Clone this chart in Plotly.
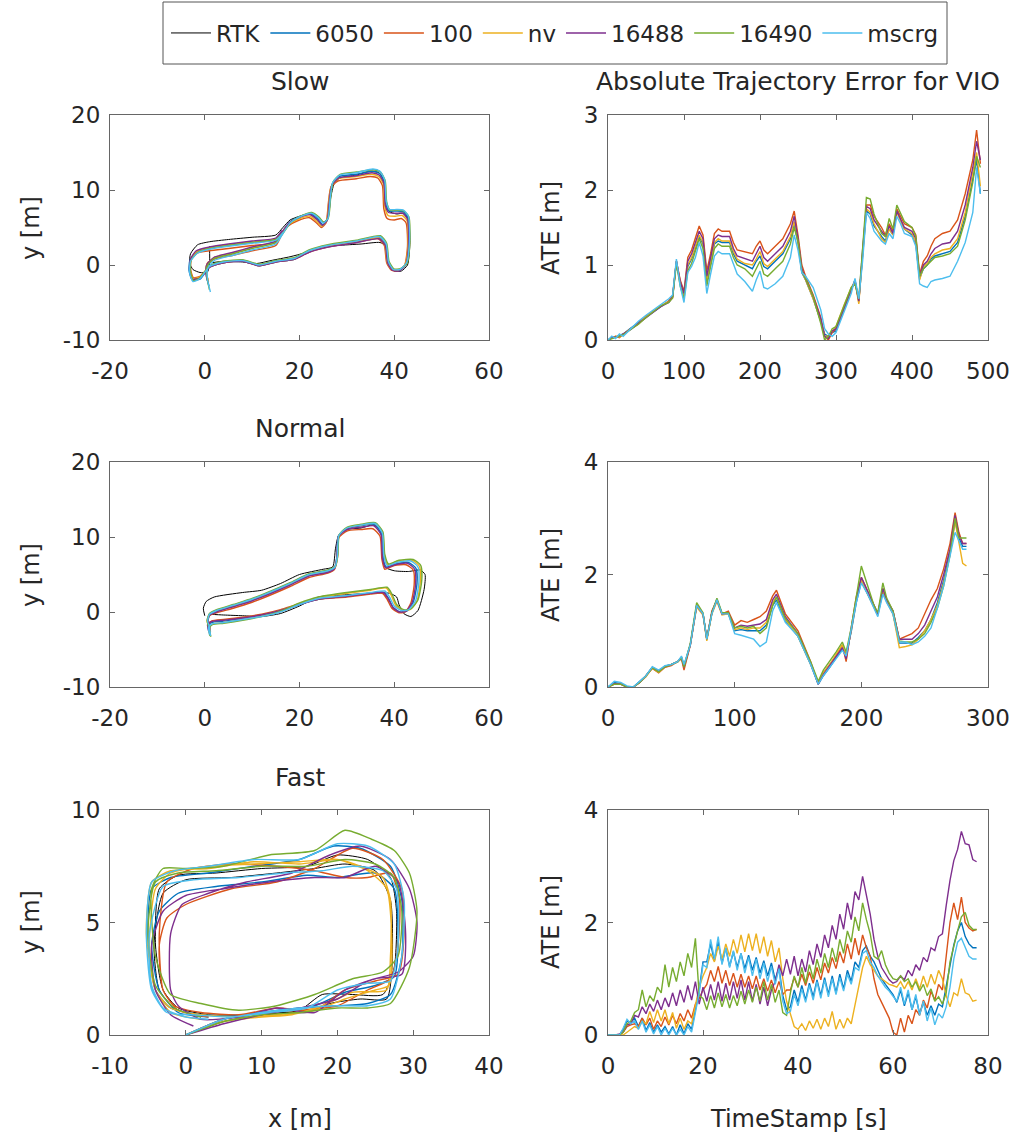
import plotly.graph_objects as go

W, H = 1025, 1139
FONT = "DejaVu Sans"
TXT = "#262626"
AX = "#666666"

names = ["RTK", "6050", "100", "nv", "16488", "16490", "mscrg"]
colors = {"RTK": "#000000", "6050": "#0072BD", "100": "#D95319", "nv": "#EDB120",
          "16488": "#7E2F8E", "16490": "#77AC30", "mscrg": "#4DBEEE"}

# ---------------- Slow trajectories ----------------
slow_x = {
    "RTK": [1.0, 1.0, 0.5, -1.0, -2.5, -3.2, -3.0, -1.5, 1.0, 5.0, 10.0, 15.0, 16.5, 18.0, 20.0, 22.5, 24.0, 25.0, 26.0, 26.6, 27.3, 28.5, 32.0, 35.0, 36.8, 37.8, 38.2, 38.8, 40.5, 42.0, 43.0, 43.3, 42.8, 41.5, 40.0, 38.8, 38.3, 37.0, 33.0, 28.0, 24.0, 21.0, 18.0, 14.0, 11.0, 8.0, 4.0, 1.5],
    "6050": [0.9, 0.4, 0.5, 2.0, 6.0, 10.0, 15.0, 16.4, 17.9, 19.9, 22.4, 23.9, 24.9, 25.9, 26.4, 26.9, 28.4, 32.0, 35.4, 36.9, 37.9, 38.2, 38.9, 40.4, 41.9, 42.9, 43.1, 42.5, 41.1, 39.7, 38.7, 38.2, 36.9, 32.0, 26.0, 22.0, 19.0, 15.0, 11.5, 8.0, 4.0, 1.0, -1.0, -2.6, -3.3, -3.1, -1.6, 1.0, 5.0, 10.0, 15.0, 16.4],
    "100": [0.7, 0.3, 0.5, 2.0, 6.0, 10.0, 15.0, 16.2, 17.6, 19.6, 22.1, 23.6, 24.6, 25.6, 26.1, 26.6, 28.1, 32.0, 35.0, 36.5, 37.5, 37.8, 38.5, 40.0, 41.5, 42.5, 42.8, 42.2, 40.8, 39.4, 38.4, 37.9, 36.6, 32.0, 26.0, 22.0, 19.0, 15.0, 11.5, 8.0, 4.0, 1.0, -1.0, -2.4, -3.0, -2.8, -1.6, 1.0, 5.0, 10.0, 15.0, 16.2],
    "nv": [0.8, 0.4, 0.5, 2.0, 6.0, 10.0, 15.0, 16.3, 17.7, 19.7, 22.2, 23.7, 24.7, 25.7, 26.2, 26.7, 28.2, 32.0, 35.2, 36.7, 37.7, 38.0, 38.7, 40.2, 41.7, 42.7, 42.9, 42.3, 40.9, 39.5, 38.5, 38.0, 36.7, 32.0, 26.0, 22.0, 19.0, 15.0, 11.5, 8.0, 4.0, 1.0, -1.0, -2.5, -3.1, -2.9, -1.7, 1.0, 5.0, 10.0, 15.0, 16.3],
    "16488": [0.8, 0.3, 0.4, 1.9, 6.0, 10.0, 15.0, 16.4, 17.8, 19.8, 22.3, 23.8, 24.8, 25.8, 26.3, 26.8, 28.3, 32.0, 35.3, 36.8, 37.8, 38.1, 38.8, 40.3, 41.8, 42.8, 43.0, 42.4, 41.0, 39.6, 38.6, 38.1, 36.8, 32.0, 26.0, 22.0, 19.0, 15.0, 11.5, 8.0, 4.0, 1.0, -1.0, -2.6, -3.2, -3.0, -1.8, 1.0, 5.0, 10.0, 15.0, 16.3],
    "16490": [1.0, 0.5, 0.4, 1.8, 6.0, 10.0, 15.0, 16.6, 18.2, 20.2, 22.6, 24.1, 25.1, 26.1, 26.6, 27.1, 28.6, 32.0, 35.5, 37.1, 38.1, 38.4, 39.1, 40.6, 42.1, 43.1, 43.3, 42.7, 41.3, 39.9, 38.9, 38.4, 37.1, 32.0, 26.0, 22.0, 19.0, 15.0, 11.5, 8.0, 4.0, 1.0, -1.0, -2.4, -3.0, -2.9, -1.4, 1.0, 5.0, 10.0, 15.0, 16.6],
    "mscrg": [1.2, 0.6, 0.6, 2.0, 6.0, 10.0, 15.0, 16.5, 18.0, 20.0, 22.5, 24.0, 25.0, 26.0, 26.5, 27.0, 28.5, 32.0, 35.5, 37.0, 38.0, 38.3, 39.0, 40.5, 42.0, 43.0, 43.2, 42.6, 41.2, 39.8, 38.8, 38.3, 37.0, 32.0, 26.0, 22.0, 19.0, 15.0, 11.5, 8.0, 4.0, 1.0, -1.0, -2.5, -3.2, -3.0, -1.5, 1.0, 5.0, 10.0, 15.0, 16.5],
}
slow_y = {
    "RTK": [2.5, 0.0, -1.0, -1.0, -0.6, 0.3, 1.5, 2.7, 3.1, 3.4, 3.7, 4.0, 5.0, 6.0, 6.5, 6.9, 6.3, 5.7, 6.3, 9.0, 10.8, 11.6, 12.0, 12.5, 12.3, 11.3, 9.0, 7.2, 6.8, 6.9, 6.0, 3.0, 0.0, -0.8, -0.8, 0.2, 2.5, 3.0, 2.8, 2.6, 2.3, 1.6, 1.1, 0.6, 0.2, 0.4, 0.5, 0.3],
    "6050": [-2.8, -1.6, -0.2, 0.9, 1.6, 2.3, 3.1, 4.4, 5.7, 6.4, 6.8, 6.1, 5.4, 6.0, 8.8, 10.8, 11.8, 12.1, 12.5, 12.2, 11.0, 8.2, 7.2, 7.2, 7.1, 6.3, 2.8, 0.1, -0.7, -0.7, 0.3, 2.7, 3.6, 3.1, 2.5, 1.8, 0.8, 0.4, -0.1, 0.5, 0.3, -0.3, -1.9, -2.0, -0.8, 0.7, 1.8, 2.3, 2.7, 3.1, 3.5, 4.5],
    "100": [-2.0, -1.0, 0.2, 0.8, 1.3, 1.9, 2.6, 4.0, 5.2, 5.9, 6.3, 5.6, 5.0, 5.6, 8.3, 10.3, 11.2, 11.5, 11.8, 11.6, 10.6, 7.5, 6.2, 6.0, 6.2, 5.6, 2.5, 0.0, -0.8, -0.7, 0.3, 2.6, 3.5, 3.0, 2.4, 1.7, 0.8, 0.4, -0.1, 0.5, 0.3, -0.3, -1.5, -1.7, -0.5, 0.9, 1.6, 1.9, 2.2, 2.6, 3.0, 4.0],
    "nv": [-2.2, -1.2, 0.1, 1.0, 1.6, 2.3, 3.0, 4.3, 5.4, 6.1, 6.5, 5.8, 5.2, 5.8, 8.5, 10.5, 11.5, 11.8, 12.1, 11.8, 10.8, 7.8, 6.6, 6.5, 6.6, 5.9, 2.7, 0.1, -0.7, -0.6, 0.4, 2.7, 3.6, 3.1, 2.5, 1.8, 0.9, 0.5, 0.0, 0.6, 0.4, -0.2, -1.6, -1.8, -0.6, 0.8, 1.8, 2.3, 2.7, 3.1, 3.5, 4.5],
    "16488": [-2.5, -1.4, 0.0, 1.0, 1.7, 2.4, 3.2, 4.5, 5.6, 6.3, 6.7, 6.0, 5.3, 5.9, 8.6, 10.6, 11.6, 11.9, 12.3, 12.0, 10.9, 8.0, 7.0, 6.9, 6.9, 6.1, 2.6, 0.0, -0.8, -0.7, 0.3, 2.6, 3.5, 3.0, 2.4, 1.7, 0.8, 0.4, -0.1, 0.5, 0.3, -0.3, -1.7, -1.9, -0.7, 0.8, 1.9, 2.4, 2.8, 3.2, 3.6, 4.6],
    "16490": [-3.3, -1.8, -0.3, 0.8, 1.5, 2.2, 3.0, 4.3, 5.7, 6.5, 7.0, 6.4, 5.7, 6.3, 9.1, 11.1, 12.1, 12.4, 12.7, 12.4, 11.2, 8.4, 7.3, 7.3, 7.2, 6.4, 3.0, 0.2, -0.5, -0.5, 0.5, 2.9, 3.9, 3.3, 2.7, 2.0, 1.0, 0.6, 0.1, 0.7, 0.5, -0.1, -1.7, -2.1, -0.9, 0.6, 1.7, 2.2, 2.6, 3.0, 3.4, 4.4],
    "mscrg": [-3.6, -2.0, -0.5, 0.6, 1.3, 2.0, 2.8, 4.2, 5.6, 6.4, 6.9, 6.3, 5.6, 6.2, 9.0, 11.0, 12.0, 12.3, 12.8, 12.5, 11.3, 8.5, 7.4, 7.4, 7.3, 6.5, 3.0, 0.3, -0.6, -0.6, 0.4, 2.8, 3.8, 3.2, 2.6, 1.9, 0.9, 0.5, 0.0, 0.6, 0.4, -0.2, -1.8, -2.2, -1.0, 0.5, 1.6, 2.1, 2.5, 2.9, 3.3, 4.3],
}

# ---------------- Normal trajectories ----------------
normal_x = {
    "RTK": [0.0, -0.3, 0.3, 2.0, 8.0, 12.0, 16.0, 20.0, 25.0, 27.0, 27.6, 28.3, 30.0, 33.0, 35.5, 37.2, 37.6, 38.0, 40.0, 43.0, 45.5, 46.5, 46.3, 45.0, 43.5, 42.0, 41.0, 40.5, 39.0, 35.0, 30.0, 24.0, 20.0, 16.0, 12.0, 8.0, 4.0, 1.0],
    "6050": [0.9, 0.7, 1.4, 4.0, 8.0, 12.0, 16.0, 20.0, 24.0, 30.0, 35.0, 37.8, 38.8, 39.8, 41.2, 42.6, 44.0, 44.8, 44.6, 43.0, 40.2, 38.3, 37.6, 37.3, 35.8, 33.0, 30.0, 28.2, 27.9, 27.4, 26.0, 22.0, 18.0, 14.0, 10.0, 6.0, 2.5, 1.0, 0.7, 1.0, 1.1],
    "100": [1.0, 0.8, 1.5, 4.0, 8.0, 12.0, 16.0, 20.0, 24.0, 30.0, 35.0, 37.5, 38.5, 39.5, 41.0, 42.3, 43.5, 44.2, 44.0, 42.5, 40.0, 38.0, 37.4, 37.0, 35.5, 33.0, 30.0, 28.3, 28.0, 27.4, 26.0, 22.0, 18.0, 14.0, 10.0, 6.0, 2.5, 1.0, 0.6, 1.0, 1.2],
    "nv": [1.1, 0.9, 1.6, 4.0, 8.0, 12.0, 16.0, 20.0, 24.0, 30.0, 35.0, 38.3, 39.3, 40.3, 41.8, 43.3, 44.8, 45.5, 45.3, 43.8, 40.8, 38.6, 37.9, 37.5, 36.0, 33.0, 30.0, 28.3, 28.0, 27.5, 26.0, 22.0, 18.0, 14.0, 10.0, 6.0, 2.5, 1.0, 0.5, 0.9, 1.2],
    "16488": [0.8, 0.6, 1.3, 4.0, 8.0, 12.0, 16.0, 20.0, 24.0, 30.0, 35.0, 37.7, 38.7, 39.7, 41.1, 42.5, 43.8, 44.5, 44.3, 42.8, 40.1, 38.2, 37.5, 37.2, 35.7, 33.0, 30.0, 28.2, 27.9, 27.4, 26.0, 22.0, 18.0, 14.0, 10.0, 6.0, 2.5, 1.0, 0.6, 0.9, 1.0],
    "16490": [1.1, 0.9, 1.6, 4.0, 8.0, 12.0, 16.0, 20.0, 24.0, 30.0, 35.0, 38.5, 39.5, 40.5, 42.0, 43.5, 45.0, 45.8, 45.6, 44.0, 41.0, 38.8, 38.0, 37.6, 36.0, 33.0, 30.0, 28.4, 28.1, 27.6, 26.0, 22.0, 18.0, 14.0, 10.0, 6.0, 2.5, 1.0, 0.5, 0.9, 1.3],
    "mscrg": [1.0, 0.8, 1.5, 4.0, 8.0, 12.0, 16.0, 20.0, 24.0, 30.0, 35.0, 38.0, 39.0, 40.0, 41.5, 43.0, 44.5, 45.2, 45.0, 43.5, 40.5, 38.5, 37.8, 37.5, 36.0, 33.0, 30.0, 28.3, 28.0, 27.5, 26.0, 22.0, 18.0, 14.0, 10.0, 6.0, 2.5, 1.0, 0.6, 1.0, 1.2],
}
normal_y = {
    "RTK": [-0.5, 0.5, 1.4, 2.0, 2.6, 2.9, 3.8, 5.0, 5.7, 6.0, 8.5, 10.3, 11.0, 11.2, 11.6, 11.0, 8.0, 6.0, 5.5, 5.4, 5.6, 5.0, 3.0, 0.2, -0.6, -0.2, 1.0, 2.0, 2.5, 2.5, 2.3, 2.0, 0.8, -0.2, -0.6, -0.5, -0.4, -0.3],
    "6050": [-2.6, -1.8, -1.4, -1.2, -0.9, -0.5, 0.1, 1.0, 1.7, 2.1, 2.5, 2.6, 1.8, 0.6, 0.0, 0.1, 1.3, 3.8, 5.8, 6.6, 6.4, 6.0, 7.3, 10.4, 11.7, 11.5, 11.1, 10.1, 7.4, 5.9, 5.4, 4.9, 3.7, 2.6, 1.6, 0.8, 0.1, -0.4, -1.3, -1.9, -2.9],
    "100": [-2.4, -1.6, -1.2, -1.0, -0.7, -0.3, 0.3, 1.1, 1.7, 2.0, 2.4, 2.5, 1.7, 0.5, -0.1, 0.0, 1.2, 3.6, 5.6, 6.3, 6.2, 5.7, 7.0, 10.1, 11.1, 11.0, 10.8, 9.9, 7.2, 5.7, 5.2, 4.6, 3.4, 2.3, 1.3, 0.5, -0.1, -0.5, -1.2, -1.7, -2.6],
    "nv": [-3.1, -2.1, -1.6, -1.4, -1.0, -0.5, 0.2, 1.1, 1.9, 2.5, 2.9, 3.2, 2.3, 0.9, 0.2, 0.3, 1.5, 4.1, 6.1, 6.9, 6.8, 6.3, 7.6, 10.6, 11.8, 11.6, 11.2, 10.2, 7.5, 6.0, 5.5, 5.0, 3.8, 2.7, 1.7, 0.9, 0.2, -0.3, -1.2, -2.1, -3.0],
    "16488": [-2.5, -1.7, -1.3, -1.1, -0.8, -0.4, 0.2, 1.0, 1.7, 2.1, 2.5, 2.6, 1.8, 0.6, 0.0, 0.1, 1.3, 3.7, 5.7, 6.5, 6.3, 5.9, 7.2, 10.3, 11.5, 11.3, 11.0, 10.0, 7.3, 5.8, 5.3, 4.8, 3.6, 2.5, 1.5, 0.7, 0.0, -0.4, -1.2, -1.8, -2.8],
    "16490": [-3.2, -2.2, -1.7, -1.5, -1.1, -0.6, 0.1, 1.2, 2.0, 2.6, 3.0, 3.3, 2.4, 1.0, 0.3, 0.4, 1.6, 4.2, 6.2, 7.0, 6.9, 6.4, 7.7, 10.7, 11.9, 11.7, 11.3, 10.3, 7.6, 6.1, 5.6, 5.1, 3.9, 2.8, 1.8, 1.0, 0.3, -0.2, -1.1, -2.2, -3.3],
    "mscrg": [-3.0, -2.0, -1.6, -1.4, -1.0, -0.6, 0.0, 1.0, 1.8, 2.2, 2.6, 2.8, 2.0, 0.8, 0.2, 0.3, 1.5, 4.0, 6.0, 6.8, 6.6, 6.2, 7.5, 10.5, 11.8, 11.6, 11.2, 10.2, 7.5, 6.0, 5.5, 5.0, 3.8, 2.7, 1.7, 0.9, 0.2, -0.3, -1.2, -2.0, -3.2],
}

# ---------------- Fast trajectories ----------------
fast_x = {
    "RTK": [0.0, 5.0, 10.0, 15.0, 18.0, 22.0, 26.0, 27.5, 27.8, 27.0, 24.0, 20.0, 16.0, 10.0, 4.0, -1.0, -3.5, -4.0, -3.0, -1.0, 3.0, 8.0, 13.0, 16.0, 19.0, 23.0, 26.5, 27.2, 27.0, 25.0, 21.0, 17.0, 12.0, 6.0, 0.0, -3.0, -4.2, -3.5, -1.5, 2.0],
    "6050": [0.0, 5.0, 10.0, 15.0, 20.0, 24.0, 27.0, 28.5, 28.5, 27.0, 23.0, 19.5, 15.0, 9.0, 3.0, -2.0, -4.5, -5.0, -4.0, -2.0, 2.0, 8.0, 13.0, 17.0, 21.0, 25.0, 27.5, 28.0, 27.5, 25.0, 20.0, 16.0, 10.0, 4.0, -1.0, -3.5, -4.5, -3.5, -1.0, 3.0],
    "100": [0.0, 5.0, 10.0, 15.0, 20.0, 24.0, 27.0, 28.0, 28.2, 27.0, 24.0, 21.0, 17.0, 12.0, 6.0, 1.0, -2.5, -3.5, -3.0, -1.5, 2.0, 7.0, 12.0, 17.0, 21.0, 25.0, 28.0, 28.8, 28.5, 26.0, 22.0, 17.0, 12.0, 6.0, 0.0, -2.5, -3.5, -3.0, -1.0, 3.0],
    "nv": [0.0, 5.0, 10.0, 14.0, 18.0, 22.0, 26.5, 27.0, 27.0, 26.0, 23.0, 20.0, 15.0, 9.0, 3.0, -2.0, -4.5, -5.2, -4.0, -2.0, 2.0, 7.0, 12.0, 17.0, 21.0, 25.0, 26.8, 27.2, 26.5, 24.0, 20.0, 15.0, 9.0, 3.0, -2.0, -4.0, -4.8, -4.0, -2.0, 2.0],
    "16488": [0.0, 5.0, 10.0, 15.0, 20.0, 24.0, 28.0, 30.0, 30.5, 29.5, 27.0, 23.0, 19.0, 14.0, 8.0, 3.0, -0.5, -2.0, -2.0, -1.0, 2.0, 7.0, 12.0, 17.0, 21.0, 25.0, 28.5, 29.0, 28.0, 25.0, 21.0, 17.0, 11.0, 5.0, 0.0, -3.0, -4.5, -4.0, -2.0, 1.0],
    "16490": [0.0, 5.0, 10.0, 15.0, 20.0, 24.0, 27.0, 29.5, 30.5, 29.5, 27.5, 24.5, 21.0, 17.0, 11.0, 5.0, 0.0, -3.0, -4.5, -4.0, -2.0, 2.0, 7.0, 12.0, 17.0, 22.0, 26.0, 28.0, 28.5, 27.5, 25.0, 21.0, 16.0, 10.0, 4.0, -1.0, -4.0, -5.0, -4.0, -1.5, 2.0],
    "mscrg": [0.0, 5.0, 10.0, 15.0, 20.0, 24.0, 27.0, 28.5, 28.8, 27.5, 24.0, 20.0, 15.0, 9.0, 3.0, -1.5, -4.5, -5.2, -4.5, -2.5, 1.0, 6.0, 11.0, 16.0, 20.0, 24.0, 27.0, 28.0, 27.8, 26.0, 22.0, 18.0, 13.0, 7.0, 1.0, -3.0, -4.8, -4.5, -3.0, 0.0, 3.0],
}
fast_y = {
    "RTK": [0.0, 0.6, 0.9, 1.1, 1.8, 1.8, 1.8, 3.0, 5.5, 7.0, 7.8, 8.0, 7.5, 7.4, 7.2, 7.1, 6.5, 4.0, 2.0, 1.2, 0.9, 0.8, 1.0, 1.0, 1.4, 1.6, 1.6, 3.0, 6.0, 7.3, 7.6, 7.4, 7.2, 7.0, 6.9, 6.3, 4.0, 2.0, 1.2, 0.8],
    "6050": [0.0, 0.7, 1.0, 1.2, 1.3, 1.4, 1.8, 3.5, 6.0, 7.5, 8.3, 8.4, 7.8, 7.5, 7.2, 7.0, 6.5, 4.5, 2.0, 1.2, 0.9, 0.9, 1.1, 1.3, 1.9, 2.2, 2.6, 4.0, 6.5, 7.2, 7.0, 7.1, 6.8, 6.6, 6.3, 5.5, 4.0, 2.0, 1.0, 0.8],
    "100": [0.0, 0.7, 1.0, 1.1, 1.3, 2.0, 2.5, 4.0, 6.0, 7.2, 7.0, 7.0, 7.3, 7.5, 7.6, 7.4, 6.8, 4.5, 2.0, 1.3, 1.0, 0.9, 1.2, 1.1, 2.0, 2.4, 2.7, 4.5, 6.5, 7.8, 8.3, 7.4, 6.8, 6.5, 5.8, 5.2, 4.0, 2.0, 1.1, 0.8],
    "nv": [0.0, 0.6, 0.8, 0.9, 1.3, 1.9, 2.0, 3.5, 6.0, 7.0, 7.5, 7.8, 7.6, 7.7, 7.4, 7.3, 6.8, 4.5, 2.0, 1.2, 0.9, 0.8, 0.9, 1.1, 1.6, 2.0, 2.2, 4.0, 6.5, 7.3, 7.8, 7.7, 7.6, 7.5, 7.2, 6.5, 4.0, 2.0, 1.0, 0.7],
    "16488": [0.0, 0.5, 0.9, 1.2, 1.6, 2.4, 2.8, 3.5, 5.0, 6.5, 7.8, 8.4, 8.0, 7.2, 6.8, 6.3, 5.8, 4.5, 2.0, 1.3, 0.7, 0.8, 1.2, 1.0, 2.0, 2.5, 2.7, 4.5, 6.8, 7.5, 7.0, 7.0, 6.8, 6.5, 6.2, 5.5, 4.0, 2.0, 0.9, 0.4],
    "16490": [0.0, 0.6, 0.9, 1.0, 1.2, 1.2, 1.4, 3.0, 5.5, 7.2, 8.2, 8.7, 9.1, 8.2, 8.0, 7.5, 7.4, 7.4, 6.5, 3.5, 1.8, 1.4, 1.1, 1.3, 1.8, 2.5, 2.8, 3.5, 5.5, 7.0, 7.6, 7.8, 7.5, 7.5, 7.3, 7.2, 6.8, 4.5, 2.2, 1.2, 0.8],
    "mscrg": [0.0, 0.7, 1.0, 1.2, 1.3, 1.3, 1.6, 3.5, 6.0, 7.6, 8.4, 8.5, 7.8, 7.8, 7.5, 7.3, 6.8, 4.5, 2.0, 1.0, 0.9, 0.8, 1.0, 1.2, 2.0, 2.3, 2.4, 4.0, 6.5, 7.3, 7.5, 7.3, 7.2, 7.0, 6.9, 6.6, 4.5, 2.2, 1.2, 0.8, 0.7],
}

# ---------------- ATE: Slow ----------------
ate_slow_t = [0, 5, 10, 15, 20, 30, 40, 50, 60, 70, 80, 85, 90, 95, 100, 105, 110, 115, 120, 125,
              130, 135, 140, 145, 150, 160, 165, 170, 180, 190, 195, 200, 205, 210, 220, 230, 240, 245, 250, 255,
              260, 270, 280, 285, 290, 295, 300, 310, 320, 325, 330, 335, 340, 345, 350, 360, 365, 370, 375, 380,
              385, 390, 400, 405, 410, 415, 420, 425, 430, 440, 450, 460, 470, 480, 485, 490]
ate_slow = {
    "6050": [0.00, 0.03, 0.04, 0.06, 0.08, 0.16, 0.23, 0.31, 0.37, 0.45, 0.52, 0.58, 1.05, 0.75, 0.58, 0.98, 1.08, 1.22, 1.38, 1.28,
             0.78, 1.02, 1.28, 1.32, 1.30, 1.30, 1.15, 1.05, 1.00, 0.95, 1.05, 1.12, 0.98, 0.95, 1.05, 1.15, 1.35, 1.55, 1.30, 0.90,
             0.80, 0.55, 0.25, 0.08, 0.05, 0.10, 0.12, 0.40, 0.68, 0.80, 0.52, 1.18, 1.72, 1.68, 1.52, 1.38, 1.32, 1.48, 1.40, 1.72,
             1.60, 1.48, 1.40, 1.28, 0.82, 0.95, 1.00, 1.08, 1.12, 1.15, 1.18, 1.30, 1.65, 2.15, 2.40, 1.95],
    "100": [0.00, 0.02, 0.05, 0.03, 0.08, 0.15, 0.22, 0.32, 0.38, 0.45, 0.52, 0.58, 1.05, 0.80, 0.65, 1.10, 1.20, 1.35, 1.52, 1.40,
            0.92, 1.15, 1.42, 1.48, 1.45, 1.45, 1.30, 1.20, 1.18, 1.15, 1.25, 1.32, 1.20, 1.15, 1.25, 1.35, 1.55, 1.72, 1.40, 1.00,
            0.85, 0.60, 0.30, 0.05, 0.00, 0.10, 0.15, 0.40, 0.65, 0.80, 0.50, 1.20, 1.80, 1.80, 1.65, 1.50, 1.40, 1.55, 1.45, 1.75,
            1.65, 1.55, 1.50, 1.40, 0.88, 1.05, 1.12, 1.25, 1.35, 1.42, 1.45, 1.60, 1.95, 2.40, 2.80, 2.35],
    "nv": [0.00, 0.02, 0.05, 0.04, 0.07, 0.15, 0.21, 0.31, 0.38, 0.46, 0.51, 0.56, 1.05, 0.76, 0.60, 1.00, 1.10, 1.25, 1.40, 1.30,
           0.80, 1.05, 1.30, 1.35, 1.32, 1.32, 1.18, 1.08, 1.02, 1.00, 1.08, 1.18, 1.02, 0.98, 1.08, 1.18, 1.38, 1.58, 1.30, 0.92,
           0.80, 0.55, 0.25, 0.05, 0.05, 0.12, 0.18, 0.45, 0.70, 0.78, 0.48, 1.15, 1.75, 1.70, 1.55, 1.35, 1.30, 1.48, 1.40, 1.70,
           1.60, 1.48, 1.42, 1.30, 0.80, 0.98, 1.02, 1.10, 1.15, 1.20, 1.22, 1.35, 1.70, 2.20, 2.50, 2.05],
    "16488": [0.00, 0.03, 0.04, 0.05, 0.08, 0.14, 0.22, 0.30, 0.37, 0.45, 0.50, 0.57, 1.05, 0.78, 0.62, 1.05, 1.15, 1.30, 1.45, 1.35,
              0.85, 1.10, 1.35, 1.40, 1.38, 1.38, 1.22, 1.12, 1.08, 1.05, 1.15, 1.25, 1.10, 1.05, 1.15, 1.25, 1.45, 1.65, 1.35, 0.95,
              0.82, 0.58, 0.28, 0.05, 0.02, 0.12, 0.15, 0.42, 0.68, 0.78, 0.52, 1.20, 1.78, 1.75, 1.60, 1.45, 1.38, 1.52, 1.42, 1.72,
              1.62, 1.50, 1.45, 1.35, 0.85, 1.00, 1.05, 1.15, 1.22, 1.28, 1.30, 1.45, 1.80, 2.30, 2.65, 2.40],
    "16490": [0.00, 0.02, 0.03, 0.05, 0.07, 0.14, 0.21, 0.30, 0.38, 0.46, 0.50, 0.56, 1.02, 0.72, 0.55, 0.92, 1.02, 1.18, 1.35, 1.22,
              0.72, 0.98, 1.22, 1.28, 1.25, 1.25, 1.10, 1.00, 0.95, 0.85, 0.95, 1.05, 0.88, 0.85, 0.95, 1.05, 1.28, 1.50, 1.32, 0.92,
              0.82, 0.58, 0.22, 0.00, 0.05, 0.15, 0.18, 0.45, 0.70, 0.75, 0.55, 1.22, 1.90, 1.88, 1.68, 1.42, 1.38, 1.62, 1.48, 1.80,
              1.68, 1.58, 1.50, 1.38, 0.85, 0.95, 1.00, 1.05, 1.10, 1.12, 1.15, 1.25, 1.60, 2.10, 2.45, 2.30],
    "mscrg": [0.00, 0.05, 0.02, 0.08, 0.05, 0.15, 0.25, 0.33, 0.40, 0.48, 0.55, 0.60, 1.08, 0.72, 0.50, 0.90, 0.98, 1.10, 1.30, 1.12,
              0.62, 0.88, 1.12, 1.18, 1.15, 1.15, 1.00, 0.88, 0.78, 0.65, 0.80, 0.92, 0.70, 0.68, 0.75, 0.85, 1.10, 1.40, 1.20, 0.90,
              0.85, 0.70, 0.40, 0.15, 0.08, 0.05, 0.10, 0.35, 0.62, 0.82, 0.55, 1.05, 1.70, 1.62, 1.45, 1.32, 1.28, 1.42, 1.35, 1.65,
              1.55, 1.42, 1.38, 1.25, 0.75, 0.72, 0.70, 0.78, 0.80, 0.82, 0.85, 1.05, 1.30, 1.70, 2.30, 1.95],
}

# ---------------- ATE: Normal ----------------
ate_normal_t = [0, 5, 10, 15, 20, 25, 30, 35, 40, 45, 50, 55, 58, 60, 65, 70, 75, 78, 82, 86,
                90, 95, 100, 105, 110, 115, 120, 125, 130, 133, 140, 150, 160, 166, 170, 175, 180, 185, 188, 192,
                196, 200, 205, 210, 213, 217, 220, 225, 230, 235, 240, 245, 250, 255, 260, 265, 270, 274, 277, 280, 283]
ate_normal = {
    "6050": [0.00, 0.08, 0.06, 0.00, 0.00, 0.10, 0.20, 0.35, 0.28, 0.37, 0.40, 0.45, 0.53, 0.38, 0.75, 1.45, 1.30, 0.85, 1.32, 1.55,
             1.30, 1.30, 1.00, 1.02, 1.00, 1.00, 1.00, 1.10, 1.45, 1.55, 1.18, 0.90, 0.40, 0.05, 0.20, 0.35, 0.52, 0.68, 0.58, 0.98,
             1.50, 1.88, 1.65, 1.40, 1.28, 1.70, 1.52, 1.30, 0.78, 0.78, 0.78, 0.88, 1.00, 1.20, 1.50, 1.90, 2.40, 2.95, 2.65, 2.50, 2.50],
    "100": [0.00, 0.05, 0.05, 0.00, 0.00, 0.08, 0.20, 0.33, 0.25, 0.35, 0.38, 0.45, 0.50, 0.30, 0.75, 1.45, 1.30, 0.85, 1.35, 1.55,
            1.30, 1.35, 1.10, 1.18, 1.15, 1.20, 1.25, 1.35, 1.62, 1.72, 1.30, 1.00, 0.45, 0.05, 0.25, 0.40, 0.55, 0.75, 0.45, 1.05,
            1.60, 1.95, 1.70, 1.45, 1.30, 1.75, 1.55, 1.35, 0.85, 0.90, 0.95, 1.05, 1.30, 1.55, 1.75, 2.10, 2.55, 3.10, 2.75, 2.55, 2.55],
    "nv": [0.00, 0.05, 0.05, 0.00, 0.00, 0.08, 0.18, 0.34, 0.26, 0.36, 0.40, 0.44, 0.52, 0.35, 0.75, 1.42, 1.28, 0.82, 1.30, 1.52,
           1.28, 1.30, 1.02, 1.05, 1.02, 1.05, 1.05, 1.15, 1.50, 1.60, 1.20, 0.90, 0.40, 0.08, 0.25, 0.40, 0.58, 0.75, 0.55, 1.00,
           1.55, 1.90, 1.65, 1.42, 1.28, 1.72, 1.52, 1.30, 0.70, 0.72, 0.75, 0.85, 1.00, 1.20, 1.45, 1.85, 2.35, 2.95, 2.55, 2.20, 2.15],
    "16488": [0.00, 0.06, 0.05, 0.00, 0.00, 0.08, 0.20, 0.35, 0.28, 0.36, 0.40, 0.45, 0.52, 0.35, 0.75, 1.45, 1.30, 0.85, 1.32, 1.55,
              1.30, 1.32, 1.05, 1.10, 1.08, 1.10, 1.12, 1.20, 1.55, 1.65, 1.25, 0.95, 0.42, 0.05, 0.22, 0.38, 0.55, 0.70, 0.50, 1.00,
              1.55, 1.95, 1.70, 1.42, 1.30, 1.75, 1.55, 1.35, 0.85, 0.85, 0.85, 0.95, 1.10, 1.35, 1.60, 2.00, 2.45, 3.05, 2.70, 2.55, 2.55],
    "16490": [0.00, 0.05, 0.05, 0.00, 0.00, 0.08, 0.20, 0.34, 0.27, 0.36, 0.40, 0.45, 0.52, 0.36, 0.78, 1.50, 1.32, 0.85, 1.32, 1.58,
              1.32, 1.32, 1.05, 1.08, 1.05, 1.08, 0.95, 1.05, 1.45, 1.60, 1.22, 0.95, 0.45, 0.10, 0.30, 0.45, 0.62, 0.80, 0.62, 1.05,
              1.60, 2.15, 1.80, 1.45, 1.32, 1.85, 1.58, 1.35, 0.82, 0.80, 0.80, 0.85, 0.95, 1.15, 1.40, 1.80, 2.35, 3.00, 2.65, 2.65, 2.65],
    "mscrg": [0.00, 0.10, 0.08, 0.02, 0.00, 0.10, 0.20, 0.36, 0.30, 0.38, 0.40, 0.45, 0.55, 0.40, 0.75, 1.45, 1.30, 0.85, 1.30, 1.55,
              1.30, 1.30, 0.95, 0.92, 0.88, 0.85, 0.72, 0.80, 1.35, 1.50, 1.15, 0.90, 0.40, 0.05, 0.20, 0.35, 0.50, 0.65, 0.55, 1.00,
              1.50, 1.85, 1.65, 1.40, 1.25, 1.65, 1.50, 1.30, 0.80, 0.80, 0.75, 0.80, 0.90, 1.05, 1.40, 1.80, 2.30, 2.75, 2.60, 2.45, 2.45],
}

# ---------------- ATE: Fast ----------------
ate_fast_t = [0.0, 0.8, 1.6, 2.4, 3.2, 4.0, 4.8, 5.6, 6.4, 7.2, 8.0, 8.8, 9.6, 10.4, 11.2, 12.0, 12.8, 13.6, 14.4, 15.2,
              16.0, 16.8, 17.6, 18.4, 19.2, 20.0, 20.8, 21.6, 22.4, 23.2, 24.0, 24.8, 25.6, 26.4, 27.2, 28.0, 28.8, 29.6, 30.4, 31.2,
              32.0, 32.8, 33.6, 34.4, 35.2, 36.0, 36.8, 37.6, 38.4, 39.2, 40.0, 40.8, 41.6, 42.4, 43.2, 44.0, 44.8, 45.6, 46.4, 47.2,
              48.0, 48.8, 49.6, 50.4, 51.2, 52.0, 52.8, 53.6, 54.4, 55.2, 56.0, 56.8, 57.6, 58.4, 59.2, 60.0, 60.8, 61.6, 62.4, 63.2,
              64.0, 64.8, 65.6, 66.4, 67.2, 68.0, 68.8, 69.6, 70.4, 71.2, 72.0, 72.8, 73.6, 74.4, 75.2, 76.0, 76.8, 77.6]
ate_fast = {
    "6050": [0.00, 0.00, 0.00, 0.00, 0.10, 0.25, 0.22, 0.30, 0.15, 0.30, 0.08, 0.22, 0.05, 0.18, 0.05, 0.15, 0.02, 0.15, 0.00, 0.18,
             0.02, 0.20, 0.10, 0.45, 0.80, 1.30, 1.30, 1.62, 1.32, 1.65, 1.28, 1.55, 1.22, 1.48, 1.20, 1.45, 1.18, 1.42, 1.15, 1.38,
             1.10, 1.32, 1.05, 1.28, 0.98, 1.20, 0.70, 0.45, 0.50, 0.80, 0.58, 0.88, 0.62, 0.92, 0.68, 0.98, 0.70, 1.02, 0.72, 1.05,
             0.75, 1.08, 0.82, 1.15, 0.95, 1.30, 1.20, 1.50, 1.58, 1.40, 1.30, 1.15, 1.00, 0.90, 0.80, 0.72, 0.58, 0.80, 0.52, 0.75,
             0.45, 0.68, 0.38, 0.58, 0.35, 0.52, 0.35, 0.55, 0.50, 0.85, 1.20, 1.60, 1.85, 2.00, 1.75, 1.62, 1.55, 1.55],
    "100": [0.00, 0.00, 0.00, 0.00, 0.05, 0.15, 0.18, 0.20, 0.15, 0.30, 0.18, 0.30, 0.10, 0.25, 0.15, 0.32, 0.18, 0.35, 0.20, 0.38,
            0.25, 0.45, 0.30, 0.55, 0.65, 0.80, 0.90, 1.15, 0.95, 1.22, 0.92, 1.15, 0.88, 1.10, 0.85, 1.08, 0.85, 1.05, 0.82, 1.05,
            0.80, 1.00, 0.78, 0.98, 0.75, 0.95, 0.72, 0.80, 0.80, 1.02, 0.85, 1.08, 0.88, 1.12, 0.92, 1.20, 0.98, 1.28, 1.10, 1.38,
            1.18, 1.48, 1.28, 1.62, 1.35, 1.72, 1.42, 1.78, 1.55, 1.40, 1.00, 0.72, 0.58, 0.45, 0.30, 0.05, 0.00, 0.30, 0.05, 0.35,
            0.20, 0.45, 0.35, 0.62, 0.48, 0.78, 0.62, 0.90, 0.80, 1.40, 2.00, 2.35, 2.05, 2.45, 2.00, 1.90, 1.85, 1.88],
    "nv": [0.00, 0.00, 0.00, 0.00, 0.00, 0.05, 0.10, 0.15, 0.12, 0.25, 0.20, 0.42, 0.22, 0.45, 0.25, 0.45, 0.20, 0.40, 0.12, 0.30,
           0.10, 0.25, 0.20, 0.50, 0.85, 1.05, 1.20, 1.45, 1.30, 1.58, 1.35, 1.62, 1.40, 1.70, 1.45, 1.78, 1.48, 1.80, 1.50, 1.80,
           1.45, 1.75, 1.40, 1.68, 1.30, 1.55, 1.00, 0.60, 0.35, 0.15, 0.10, 0.20, 0.08, 0.25, 0.12, 0.28, 0.10, 0.30, 0.15, 0.42,
           0.10, 0.28, 0.12, 0.30, 0.20, 0.55, 0.85, 1.20, 1.40, 1.25, 1.15, 1.05, 1.00, 0.95, 0.90, 0.88, 0.85, 0.95, 0.82, 0.95,
           0.80, 1.00, 0.82, 1.05, 0.85, 1.08, 0.90, 1.15, 1.00, 0.70, 0.50, 0.75, 0.70, 1.00, 0.75, 0.72, 0.60, 0.62],
    "16488": [0.00, 0.00, 0.00, 0.02, 0.05, 0.18, 0.20, 0.35, 0.32, 0.50, 0.38, 0.55, 0.42, 0.62, 0.45, 0.66, 0.50, 0.75, 0.52, 0.80,
              0.58, 0.88, 0.62, 0.95, 0.55, 0.85, 0.60, 0.90, 0.62, 0.95, 0.60, 0.92, 0.62, 0.95, 0.65, 0.98, 0.62, 0.95, 0.60, 0.90,
              0.55, 0.85, 0.52, 0.80, 0.95, 1.25, 1.05, 1.35, 1.08, 1.40, 1.05, 1.35, 1.12, 1.50, 1.25, 1.62, 1.38, 1.78, 1.55, 1.95,
              1.70, 2.15, 1.88, 2.35, 2.05, 2.55, 2.40, 2.82, 2.45, 2.15, 1.70, 1.40, 1.20, 1.08, 0.98, 0.92, 0.95, 1.05, 0.98, 1.15,
              1.05, 1.25, 1.15, 1.38, 1.30, 1.55, 1.50, 1.75, 1.80, 2.30, 2.75, 3.10, 3.30, 3.62, 3.40, 3.38, 3.12, 3.08],
    "16490": [0.00, 0.00, 0.00, 0.00, 0.05, 0.20, 0.25, 0.40, 0.45, 0.80, 0.50, 0.70, 0.60, 0.85, 0.75, 1.25, 0.85, 1.20, 0.95, 1.30,
              1.05, 1.45, 1.20, 1.72, 0.70, 0.65, 0.45, 0.70, 0.48, 0.75, 0.50, 0.72, 0.48, 0.70, 0.52, 0.78, 0.55, 0.80, 0.58, 0.85,
              0.60, 0.95, 0.62, 0.90, 0.58, 0.80, 0.40, 0.35, 0.75, 1.05, 0.85, 1.20, 0.92, 1.25, 1.00, 1.35, 1.10, 1.45, 1.20, 1.55,
              1.30, 1.70, 1.45, 1.85, 1.65, 2.10, 1.85, 2.35, 2.05, 1.80, 1.40, 1.35, 1.50, 1.25, 1.10, 1.00, 0.98, 1.05, 0.95, 1.00,
              0.85, 0.95, 0.78, 0.90, 0.70, 0.82, 0.60, 0.68, 0.55, 0.75, 1.30, 1.60, 1.85, 2.10, 2.18, 1.95, 1.88, 1.87],
    "mscrg": [0.00, 0.00, 0.00, 0.00, 0.12, 0.28, 0.20, 0.25, 0.10, 0.25, 0.05, 0.18, 0.02, 0.15, 0.00, 0.12, 0.00, 0.12, 0.00, 0.10,
              0.00, 0.15, 0.05, 0.40, 0.75, 1.25, 1.20, 1.70, 1.35, 1.75, 1.25, 1.55, 1.20, 1.50, 1.15, 1.45, 1.10, 1.38, 1.05, 1.35,
              1.00, 1.28, 0.95, 1.22, 0.90, 1.18, 0.60, 0.38, 0.42, 0.72, 0.52, 0.82, 0.58, 0.88, 0.62, 0.95, 0.65, 0.98, 0.68, 1.00,
              0.72, 1.02, 0.78, 1.08, 0.90, 1.20, 1.15, 1.45, 1.50, 1.30, 1.20, 1.05, 0.95, 0.85, 0.78, 0.70, 0.60, 0.85, 0.55, 0.80,
              0.45, 0.72, 0.35, 0.60, 0.25, 0.48, 0.18, 0.38, 0.30, 0.50, 0.85, 1.35, 1.65, 1.72, 1.55, 1.40, 1.35, 1.35],
}

# ---------------- tick labels ----------------
x_tickvals = [[-20, 0, 20, 40, 60], [0, 100, 200, 300, 400, 500], [-20, 0, 20, 40, 60],
              [0, 100, 200, 300], [-10, 0, 10, 20, 30, 40], [0, 20, 40, 60, 80]]
x_ticktext = [["-20", "0", "20", "40", "60"], ["0", "100", "200", "300", "400", "500"],
              ["-20", "0", "20", "40", "60"], ["0", "100", "200", "300"],
              ["-10", "0", "10", "20", "30", "40"], ["0", "20", "40", "60", "80"]]
y_tickvals = [[-10, 0, 10, 20], [0, 1, 2, 3], [-10, 0, 10, 20], [0, 2, 4], [0, 5, 10], [0, 2, 4]]
y_ticktext = [["-10", "0", "10", "20"], ["0", "1", "2", "3"], ["-10", "0", "10", "20"],
              ["0", "2", "4"], ["0", "5", "10"], ["0", "2", "4"]]
x_ranges = [[-20, 60], [0, 500], [-20, 60], [0, 300], [-10, 40], [0, 80]]
y_ranges = [[-10, 20], [0, 3], [-10, 20], [0, 4], [0, 10], [0, 4]]

# ---------------- axis setup ----------------
col_px = [(110, 489), (608, 988)]
row_px = [(115, 340), (462, 687), (810, 1035)]


def dom_x(c):
    return [col_px[c][0] / W, col_px[c][1] / W]


def dom_y(r):
    return [1 - row_px[r][1] / H, 1 - row_px[r][0] / H]


fig = go.Figure()
layout = {}
for k in range(6):
    r, c = k // 2, k % 2
    sfx = "" if k == 0 else str(k + 1)
    common = dict(showline=True, linecolor=AX, linewidth=1, mirror="ticks", ticks="inside",
                  ticklen=5, tickcolor=AX, tickwidth=1, showgrid=False, zeroline=False,
                  tickfont=dict(family=FONT, size=23, color=TXT), fixedrange=True,
                  tickmode="array")
    layout["xaxis" + sfx] = dict(domain=dom_x(c), range=x_ranges[k], tickvals=x_tickvals[k],
                                 ticktext=x_ticktext[k], anchor="y" + sfx,
                                 ticklabelstandoff=10, **common)
    layout["yaxis" + sfx] = dict(domain=dom_y(r), range=y_ranges[k], tickvals=y_tickvals[k],
                                 ticktext=y_ticktext[k], anchor="x" + sfx,
                                 ticklabelstandoff=4, **common)


def add(xs, ys, name, k, show, shape="linear"):
    sfx = "" if k == 0 else str(k + 1)
    fig.add_trace(go.Scatter(x=xs, y=ys, mode="lines", name=name, legendgroup=name,
                             showlegend=show,
                             line=dict(color=colors[name], width=1.0 if name == "RTK" else 1.4,
                                       shape=shape, smoothing=0.6 if shape == "spline" else None),
                             xaxis="x" + sfx, yaxis="y" + sfx))


for n in names:
    add(slow_x[n], slow_y[n], n, 0, True, "spline")
for n in names:
    add(normal_x[n], normal_y[n], n, 2, False, "spline")
for n in names:
    add(fast_x[n], fast_y[n], n, 4, False, "spline")
for n in names[1:]:
    add(ate_slow_t, ate_slow[n], n, 1, False)
    add(ate_normal_t, ate_normal[n], n, 3, False)
    add(ate_fast_t, ate_fast[n], n, 5, False)


def ann(text, px, py, size, angle=0):
    return dict(text=text, x=px / W, y=1 - py / H, xref="paper", yref="paper",
                showarrow=False, xanchor="center", yanchor="middle", textangle=angle,
                font=dict(family=FONT, size=size, color=TXT))


annotations = [
    ann("Slow", 300, 81, 25),
    ann("Absolute Trajectory Error for VIO", 798, 81, 25),
    ann("Normal", 300, 428, 25),
    ann("Fast", 300, 777, 25),
    ann("y [m]", 31, 228, 24, -90),
    ann("y [m]", 31, 575, 24, -90),
    ann("y [m]", 31, 922, 24, -90),
    ann("ATE [m]", 551, 228, 24, -90),
    ann("ATE [m]", 551, 575, 24, -90),
    ann("ATE [m]", 551, 922, 24, -90),
    ann("x [m]", 300, 1119, 24),
    ann("TimeStamp [s]", 798, 1119, 24),
]

shapes = [dict(type="rect", xref="paper", yref="paper", x0=163 / W, x1=947 / W,
               y0=1 - 64 / H, y1=1 - 2 / H, line=dict(color="#555555", width=1),
               fillcolor="rgba(0,0,0,0)")]

fig.update_layout(
    width=W, height=H, margin=dict(l=0, r=0, t=0, b=0, autoexpand=False),
    paper_bgcolor="white", plot_bgcolor="white",
    font=dict(family=FONT, color=TXT),
    annotations=annotations, shapes=shapes,
    legend=dict(orientation="h", x=555 / W, xanchor="center", y=1 - 33 / H, yanchor="middle",
                font=dict(family=FONT, size=23, color=TXT), bgcolor="rgba(0,0,0,0)",
                borderwidth=0, itemwidth=40, tracegroupgap=0),
    showlegend=True,
    **layout,
)

fig.write_html("out.html", config={"displayModeBar": False},
               post_script="document.body.style.margin='0';document.body.style.overflow='hidden';")
